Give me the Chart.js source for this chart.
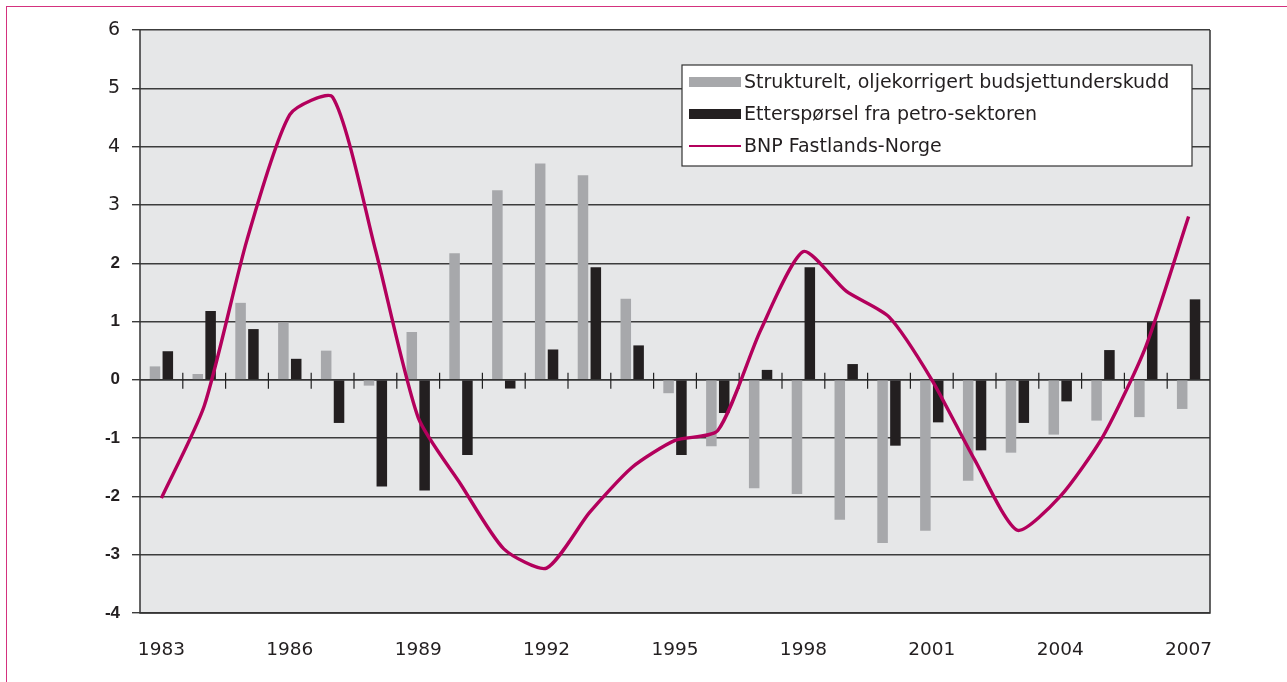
<!DOCTYPE html>
<html>
<head>
<meta charset="utf-8">
<script src="https://cdn.jsdelivr.net/npm/chart.js@4.4.1/dist/chart.umd.min.js"></script>
<style>
  html, body { margin: 0; padding: 0; background: #ffffff; }
  #wrap { position: relative; width: 1287px; height: 682px; overflow: hidden; }
  #frame { position: absolute; left: 6px; top: 6px; width: 1290px; height: 700px; border-left: 1.5px solid #d4317e; border-top: 1.5px solid #d4317e; box-sizing: border-box; pointer-events: none; }
  canvas { position: absolute; left: 0; top: 0; }
</style>
</head>
<body>
<div id="wrap">
  <canvas id="c" width="1287" height="682"></canvas>
  <div id="frame"></div>
</div>
<script>
const years = ["1983","1984","1985","1986","1987","1988","1989","1990","1991","1992","1993","1994","1995","1996","1997","1998","1999","2000","2001","2002","2003","2004","2005","2006","2007"];
const strukturelt = [0.23, 0.10, 1.32, 0.98, 0.50, -0.10, 0.82, 2.17, 3.25, 3.71, 3.51, 1.39, -0.23, -1.14, -1.86, -1.96, -2.40, -2.80, -2.59, -1.73, -1.25, -0.94, -0.70, -0.64, -0.50];
const petro = [0.49, 1.18, 0.87, 0.36, -0.74, -1.83, -1.90, -1.29, -0.15, 0.52, 1.93, 0.59, -1.29, -0.57, 0.17, 1.93, 0.27, -1.13, -0.73, -1.21, -0.74, -0.37, 0.51, 0.99, 1.38];
const bnp = [-2.03, -0.45, 2.40, 4.55, 4.85, 2.23, -0.65, -1.80, -2.90, -3.23, -2.28, -1.50, -1.04, -0.87, 0.85, 2.20, 1.52, 1.08, 0.00, -1.37, -2.58, -2.00, -0.97, 0.57, 2.80];
const yTicks = [-4, -3, -2, -1, 0, 1, 2, 3, 4, 5, 6];
const seriesNames = ["Strukturelt, oljekorrigert budsjettunderskudd", "Etterspørsel fra petro-sektoren", "BNP Fastlands-Norge"];

const GRAY = "#a7a8ab", BLACK = "#231f20", MAGENTA = "#b3005c", GRID = "#3c3c3c";

const bgPlugin = {
  id: "plotBg",
  beforeDraw(chart) {
    const a = chart.chartArea, ctx = chart.ctx;
    ctx.save();
    ctx.fillStyle = "#e6e7e8";
    ctx.fillRect(a.left, a.top, a.right - a.left, a.bottom - a.top);
    ctx.restore();
  },
  beforeDatasetsDraw(chart) {
    const a = chart.chartArea, ctx = chart.ctx;
    const x = chart.scales.x, y = chart.scales.y;
    const y0 = y.getPixelForValue(0);
    ctx.save();
    ctx.strokeStyle = "#333";
    ctx.lineWidth = 1.6;
    ctx.beginPath(); ctx.moveTo(a.left, y0); ctx.lineTo(a.right, y0); ctx.stroke();
    ctx.lineWidth = 1.2;
    ctx.strokeStyle = "#222";
    const n = years.length;
    for (let i = 1; i < n; i++) {
      const px = (x.getPixelForValue(i - 1) + x.getPixelForValue(i)) / 2;
      ctx.beginPath(); ctx.moveTo(px, y0 - 7); ctx.lineTo(px, y0 + 9); ctx.stroke();
    }
    ctx.restore();
  },
  afterDraw(chart) {
    const a = chart.chartArea, ctx = chart.ctx;
    ctx.save();
    ctx.strokeStyle = "#333";
    ctx.lineWidth = 1.5;
    ctx.beginPath();
    ctx.moveTo(a.left, a.top); ctx.lineTo(a.left, a.bottom); ctx.lineTo(a.right, a.bottom); ctx.lineTo(a.right, a.top);
    ctx.stroke();
    const lx = a.left + 542, ly = a.top + 35, lw = 510, lh = 101;
    ctx.fillStyle = "#ffffff";
    ctx.fillRect(lx, ly, lw, lh);
    ctx.strokeStyle = "#333";
    ctx.lineWidth = 1.2;
    ctx.strokeRect(lx, ly, lw, lh);
    const rows = [17, 49, 81];
    ctx.font = "19px 'DejaVu Sans'";
    ctx.textBaseline = "middle";
    ctx.fillStyle = GRAY; ctx.fillRect(lx + 7, ly + rows[0] - 5, 52, 10);
    ctx.fillStyle = BLACK; ctx.fillRect(lx + 7, ly + rows[1] - 5, 52, 10);
    ctx.strokeStyle = MAGENTA; ctx.lineWidth = 2;
    ctx.beginPath(); ctx.moveTo(lx + 7, ly + rows[2]); ctx.lineTo(lx + 59, ly + rows[2]); ctx.stroke();
    ctx.fillStyle = "#231f20";
    for (let i = 0; i < 3; i++) ctx.fillText(seriesNames[i], lx + 62, ly + rows[i] + 1);
    ctx.restore();
  }
};

new Chart(document.getElementById("c"), {
  type: "bar",
  data: {
    labels: years,
    datasets: [
      { label: seriesNames[0], data: strukturelt, backgroundColor: GRAY, order: 1, categoryPercentage: 0.6, barPercentage: 0.82 },
      { label: seriesNames[1], data: petro, backgroundColor: BLACK, order: 1, categoryPercentage: 0.6, barPercentage: 0.82 },
      { type: "line", label: seriesNames[2], data: bnp, borderColor: MAGENTA, borderWidth: 3.4, pointRadius: 0, fill: false, order: 0, tension: 0.22 }
    ]
  },
  plugins: [bgPlugin],
  options: {
    responsive: false,
    animation: false,
    layout: { padding: { top: 30, right: 77, left: 0, bottom: 0 } },
    plugins: { legend: { display: false }, tooltip: { enabled: false } },
    scales: {
      x: {
        grid: { display: false, drawTicks: false },
        border: { display: false },
        ticks: {
          autoSkip: false, maxRotation: 0, padding: 26, color: "#231f20",
          font: { family: "'DejaVu Sans'", size: 18.5 },
          callback: function(v, i) { return i % 3 === 0 ? years[i] : ""; }
        },
        afterFit(s) { s.height = 69; }
      },
      y: {
        min: -4, max: 6,
        afterBuildTicks(s) { s.ticks = yTicks.map(v => ({ value: v })); },
        grid: { color: GRID, lineWidth: 1.4, tickLength: 8, drawTicks: true, tickColor: GRID },
        border: { display: false },
        ticks: {
          padding: 12, color: "#231f20",
          font: (ctx) => (ctx.tick && ctx.tick.value <= 2)
            ? { family: "'Liberation Sans'", size: 17, weight: "bold" }
            : { family: "'DejaVu Sans'", size: 19 },
          callback: (v) => String(v)
        },
        afterFit(s) { s.width = 140; }
      }
    }
  }
});
</script>
</body>
</html>
